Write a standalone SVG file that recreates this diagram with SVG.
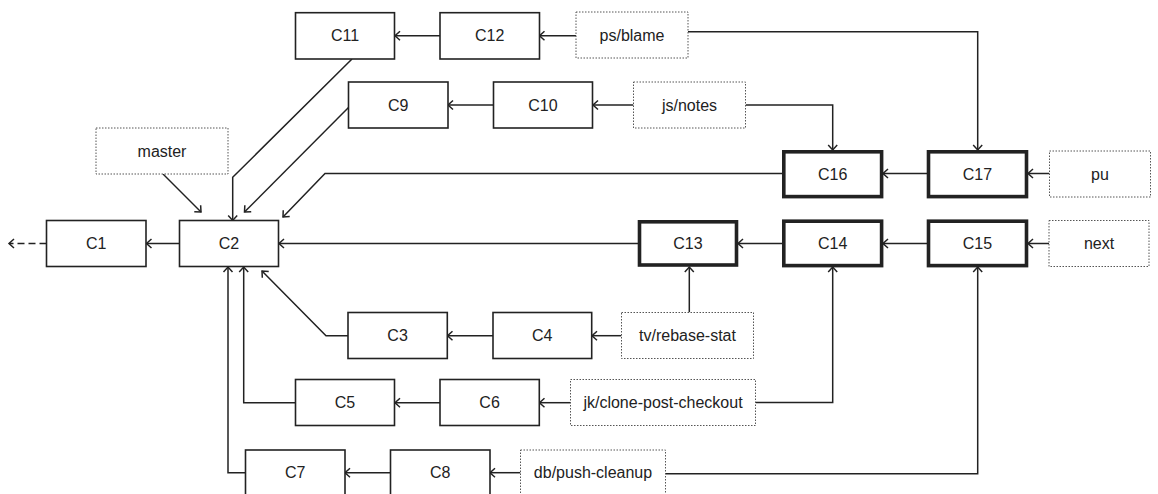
<svg xmlns="http://www.w3.org/2000/svg" width="1158" height="494" viewBox="0 0 1158 494">
<defs>
<marker id="arr" markerUnits="userSpaceOnUse" markerWidth="14" markerHeight="14" viewBox="-8 -7 10 14" refX="0" refY="0" orient="auto">
<path d="M-5,-4.5 L0,0 L-5,4.5" fill="none" stroke="#222" stroke-width="1.5"/>
</marker>
</defs>
<style>
.n rect{fill:#fff;stroke:#222;stroke-width:1.6}
.t rect{stroke-width:3.6}
.d rect{stroke:#555;stroke-width:1;stroke-dasharray:1.5 1.5}
text{font-family:"Liberation Sans",Arial,sans-serif;font-size:16px;fill:#222;text-anchor:middle;dominant-baseline:central}
.c path{fill:none;stroke:#222;stroke-width:1.5;marker-end:url(#arr)}
</style>
<g class="c" id="connectors">
<path d="M179.5,243.5 L146.5,243.5"/>
<path d="M46.5,243.5 L9,243.5" stroke-dasharray="7 4"/>
<path d="M163,174 L201,212"/>
<path d="M352,59 L232.7,177.3 L232.7,220.5"/>
<path d="M348.5,107.5 L244.5,212"/>
<path d="M783.5,173.5 L325,173.5 L283,217"/>
<path d="M639,243.5 L279,243.5"/>
<path d="M783.5,243.5 L738,243.5"/>
<path d="M928,243.5 L883,243.5"/>
<path d="M1049,243.5 L1028,243.5"/>
<path d="M1049.5,173.5 L1028,173.5"/>
<path d="M928,173.5 L883,173.5"/>
<path d="M440,35.7 L395,35.7"/>
<path d="M576,35.7 L539.5,35.7"/>
<path d="M688,31.7 L977.7,31.7 L977.7,150"/>
<path d="M493.5,105 L448,105"/>
<path d="M633.5,105 L593,105"/>
<path d="M745.7,105 L832.7,105 L832.7,150"/>
<path d="M348,335.7 L326,335.7 L262,271"/>
<path d="M493,335.7 L447.5,335.7"/>
<path d="M621.5,335.7 L592,335.7"/>
<path d="M689.3,312.3 L689.3,267"/>
<path d="M295.5,402.7 L243.7,402.7 L243.7,267"/>
<path d="M440,402.7 L395,402.7"/>
<path d="M570.5,402.7 L539.5,402.7"/>
<path d="M755.7,402.5 L832.7,402.5 L832.7,267"/>
<path d="M245.5,472.7 L228,472.7 L228,267"/>
<path d="M390.5,472.7 L345,472.7"/>
<path d="M520.5,472.7 L490,472.7"/>
<path d="M665.7,473.7 L977.7,473.7 L977.7,267"/>
</g>
<g id="C1" class="n"><rect x="46.5" y="220.5" width="99.5" height="46"/><text x="96.3" y="243.5">C1</text></g>
<g id="C2" class="n"><rect x="179.5" y="220.5" width="99" height="46"/><text x="229" y="243.5">C2</text></g>
<g id="master" class="n d"><rect x="96" y="128" width="132" height="46"/><text x="162" y="151">master</text></g>
<g id="C11" class="n"><rect x="295.5" y="12.7" width="99" height="46.3"/><text x="345" y="35.8">C11</text></g>
<g id="C12" class="n"><rect x="440" y="12.7" width="99.5" height="46.3"/><text x="489.7" y="35.8">C12</text></g>
<g id="ps-blame" class="n d"><rect x="576" y="12" width="112" height="46"/><text x="632" y="35">ps/blame</text></g>
<g id="C9" class="n"><rect x="348.5" y="82" width="99.5" height="46"/><text x="398.2" y="105">C9</text></g>
<g id="C10" class="n"><rect x="493.5" y="82" width="99" height="46"/><text x="543" y="105">C10</text></g>
<g id="js-notes" class="n d"><rect x="633.5" y="82" width="112" height="46"/><text x="689.5" y="105">js/notes</text></g>
<g id="C16" class="n t"><rect x="783.8" y="151.8" width="97.8" height="44.8"/><text x="832.7" y="174">C16</text></g>
<g id="C17" class="n t"><rect x="928.5" y="151.8" width="98" height="44.8"/><text x="977.5" y="174">C17</text></g>
<g id="pu" class="n d"><rect x="1049.5" y="151" width="101" height="46"/><text x="1100" y="174">pu</text></g>
<g id="C13" class="n t"><rect x="639.5" y="221.8" width="97" height="43.2"/><text x="688" y="243.5">C13</text></g>
<g id="C14" class="n t"><rect x="783.8" y="221.2" width="97.8" height="44.4"/><text x="832.7" y="243.5">C14</text></g>
<g id="C15" class="n t"><rect x="928.5" y="221.2" width="98" height="44.4"/><text x="977.5" y="243.5">C15</text></g>
<g id="next" class="n d"><rect x="1049" y="220.5" width="100" height="46"/><text x="1099" y="243.5">next</text></g>
<g id="C3" class="n"><rect x="348" y="312.5" width="99.3" height="46"/><text x="397.6" y="335.5">C3</text></g>
<g id="C4" class="n"><rect x="493" y="312.5" width="98.7" height="46"/><text x="542.3" y="335.5">C4</text></g>
<g id="tv-rebase-stat" class="n d"><rect x="621.5" y="312.5" width="132" height="46"/><text x="687.5" y="335.5">tv/rebase-stat</text></g>
<g id="C5" class="n"><rect x="295.5" y="379.5" width="99" height="46"/><text x="345" y="402.5">C5</text></g>
<g id="C6" class="n"><rect x="440" y="379.5" width="99.3" height="46"/><text x="489.6" y="402.5">C6</text></g>
<g id="jk-clone-post-checkout" class="n d"><rect x="570.5" y="379.5" width="185" height="46"/><text x="663" y="402.5">jk/clone-post-checkout</text></g>
<g id="C7" class="n"><rect x="245.5" y="450" width="99.5" height="46"/><text x="295.2" y="472.7">C7</text></g>
<g id="C8" class="n"><rect x="390.5" y="450" width="99.5" height="46"/><text x="440.2" y="472.7">C8</text></g>
<g id="db-push-cleanup" class="n d"><rect x="520.5" y="450" width="145" height="46"/><text x="593" y="472.7">db/push-cleanup</text></g>
</svg>
